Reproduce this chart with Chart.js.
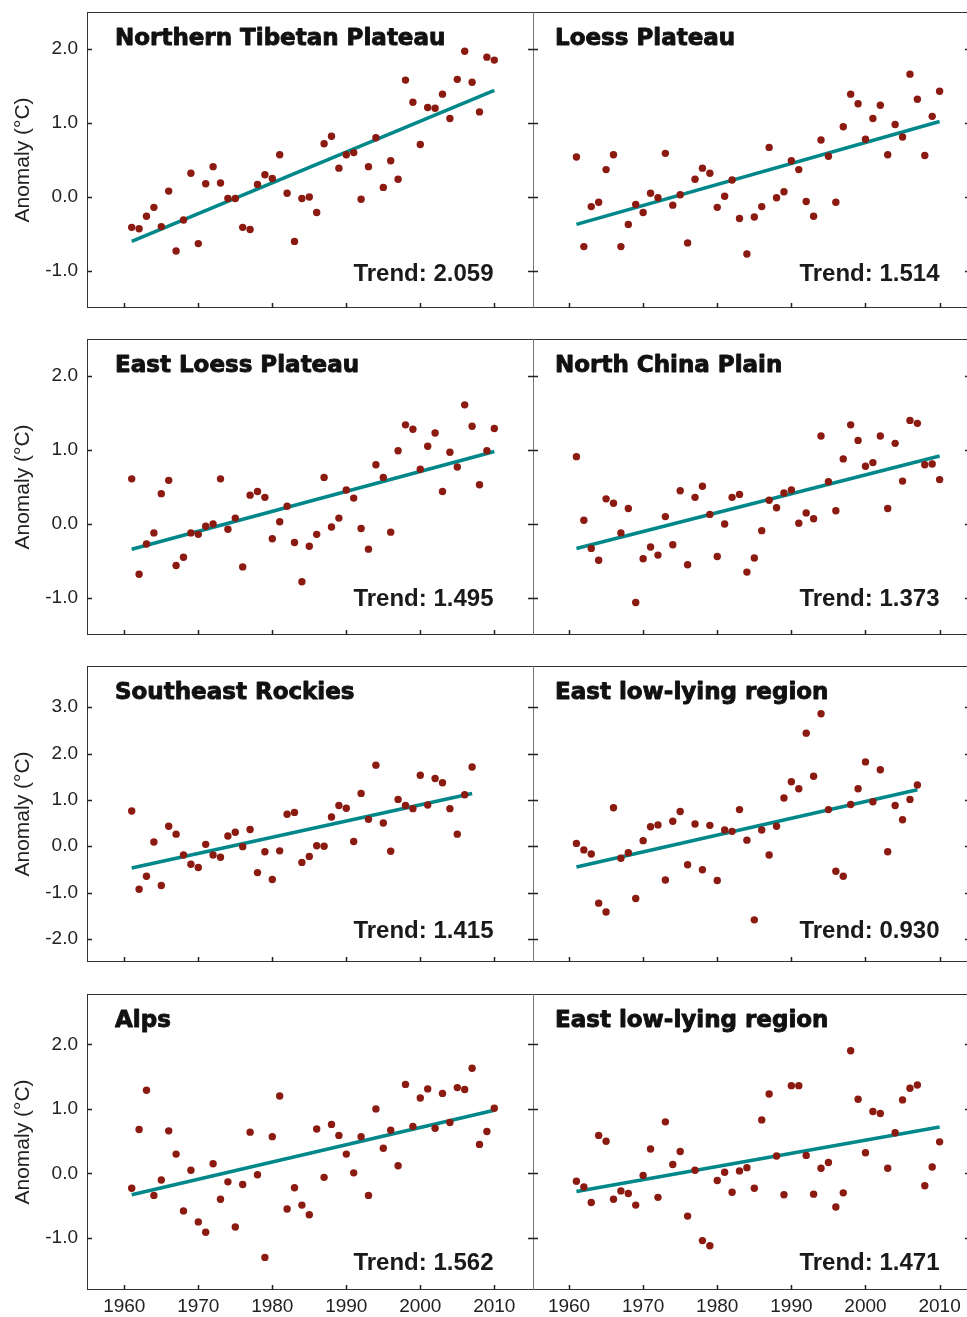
<!DOCTYPE html>
<html>
<head>
<meta charset="utf-8">
<title>Temperature anomaly trends</title>
<script src="https://cdn.jsdelivr.net/npm/chart.js@4.4.1/dist/chart.umd.min.js"></script>
<style>
  html, body { margin: 0; padding: 0; background: #fff; overflow: hidden; width: 967px; height: 1317px; }
  canvas { position: absolute; }
</style>
</head>
<body>
<script>
// ===== data =====
const years = [1961, 1962, 1963, 1964, 1965, 1966, 1967, 1968, 1969, 1970,
  1971, 1972, 1973, 1974, 1975, 1976, 1977, 1978, 1979, 1980,
  1981, 1982, 1983, 1984, 1985, 1986, 1987, 1988, 1989, 1990,
  1991, 1992, 1993, 1994, 1995, 1996, 1997, 1998, 1999, 2000,
  2001, 2002, 2003, 2004, 2005, 2006, 2007, 2008, 2009, 2010];

const titles = ["Northern Tibetan Plateau", "Loess Plateau", "East Loess Plateau", "North China Plain",
  "Southeast Rockies", "East low-lying region", "Alps", "East low-lying region"];
const trendLabels = ["2.059", "1.514", "1.495", "1.373", "1.415", "0.930", "1.562", "1.471"];

const tibetan = [-0.41, -0.43, -0.26, -0.14, -0.40, 0.08, -0.73, -0.31, 0.32, -0.63,
  0.18, 0.41, 0.19, -0.02, -0.02, -0.41, -0.44, 0.17, 0.30, 0.25,
  0.57, 0.05, -0.60, -0.02, 0.00, -0.21, 0.72, 0.82, 0.39, 0.57,
  0.60, -0.03, 0.41, 0.80, 0.13, 0.49, 0.24, 1.58, 1.28, 0.71,
  1.21, 1.20, 1.39, 1.06, 1.59, 1.97, 1.55, 1.15, 1.89, 1.85];
const loess = [0.54, -0.67, -0.13, -0.07, 0.37, 0.57, -0.67, -0.37, -0.10, -0.21,
  0.05, -0.01, 0.59, -0.11, 0.03, -0.62, 0.24, 0.39, 0.32, -0.14,
  0.01, 0.23, -0.29, -0.77, -0.27, -0.13, 0.67, -0.01, 0.07, 0.49,
  0.37, -0.06, -0.26, 0.77, 0.55, -0.07, 0.95, 1.39, 1.26, 0.78,
  1.06, 1.24, 0.57, 0.98, 0.81, 1.66, 1.32, 0.56, 1.09, 1.43];
const eastLoess = [0.61, -0.68, -0.27, -0.12, 0.41, 0.59, -0.56, -0.45, -0.12, -0.14,
  -0.03, 0.00, 0.61, -0.07, 0.08, -0.58, 0.39, 0.44, 0.36, -0.20,
  0.03, 0.24, -0.25, -0.78, -0.30, -0.14, 0.63, -0.04, 0.08, 0.46,
  0.35, -0.06, -0.34, 0.80, 0.63, -0.11, 0.99, 1.34, 1.28, 0.74,
  1.05, 1.23, 0.44, 0.97, 0.77, 1.61, 1.32, 0.53, 0.99, 1.29];
const northChina = [0.91, 0.05, -0.33, -0.49, 0.34, 0.28, -0.12, 0.21, -1.06, -0.47,
  -0.31, -0.42, 0.10, -0.28, 0.45, -0.55, 0.36, 0.51, 0.13, -0.44,
  0.00, 0.36, 0.40, -0.65, -0.46, -0.09, 0.32, 0.22, 0.42, 0.46,
  0.01, 0.15, 0.07, 1.19, 0.57, 0.18, 0.88, 1.34, 1.13, 0.78,
  0.83, 1.19, 0.21, 1.09, 0.58, 1.40, 1.36, 0.80, 0.81, 0.60];
// these two stop in 2007
const seRockies = [0.76, -0.93, -0.65, 0.09, -0.85, 0.43, 0.26, -0.19, -0.39, -0.46,
  0.04, -0.19, -0.24, 0.22, 0.30, -0.01, 0.36, -0.57, -0.12, -0.72,
  -0.10, 0.69, 0.73, -0.35, -0.22, 0.01, 0.00, 0.63, 0.88, 0.82,
  0.10, 1.14, 0.58, 1.75, 0.50, -0.11, 1.01, 0.88, 0.81, 1.53,
  0.89, 1.46, 1.37, 0.81, 0.26, 1.11, 1.71];
const eastLowA = [0.06, -0.08, -0.17, -1.23, -1.42, 0.83, -0.26, -0.14, -1.13, 0.12,
  0.42, 0.46, -0.73, 0.54, 0.75, -0.40, 0.48, -0.51, 0.45, -0.74,
  0.35, 0.32, 0.79, 0.13, -1.59, 0.35, -0.19, 0.43, 1.04, 1.39,
  1.24, 2.44, 1.51, 2.86, 0.79, -0.54, -0.65, 0.90, 1.24, 1.82,
  0.96, 1.65, -0.12, 0.88, 0.57, 1.01, 1.32];
const alps = [-0.23, 0.68, 1.29, -0.34, -0.10, 0.66, 0.30, -0.58, 0.05, -0.75,
  -0.91, 0.15, -0.40, -0.13, -0.83, -0.17, 0.64, -0.02, -1.30, 0.57,
  1.20, -0.55, -0.22, -0.49, -0.64, 0.69, -0.06, 0.76, 0.59, 0.30,
  0.01, 0.57, -0.34, 1.00, 0.39, 0.67, 0.12, 1.38, 0.73, 1.17,
  1.31, 0.70, 1.24, 0.79, 1.33, 1.30, 1.63, 0.45, 0.65, 1.01];
const eastLowB = [-0.12, -0.21, -0.45, 0.59, 0.50, -0.40, -0.27, -0.31, -0.49, -0.03,
  0.38, -0.37, 0.80, 0.14, 0.34, -0.66, 0.05, -1.04, -1.12, -0.11,
  0.02, -0.29, 0.04, 0.09, -0.23, 0.83, 1.23, 0.27, -0.33, 1.36,
  1.36, 0.28, -0.32, 0.08, 0.17, -0.52, -0.30, 1.90, 1.15, 0.32,
  0.96, 0.93, 0.08, 0.63, 1.14, 1.32, 1.37, -0.19, 0.10, 0.49];

// fitted trend line, value at first and last year
const trendStart = [-0.60, -0.37, -0.34, -0.33, -0.47, -0.45, -0.33, -0.28];
const trendEnd = [1.44, 1.02, 0.98, 0.92, 1.14, 1.22, 0.98, 0.72];

const xTicks = [1960, 1970, 1980, 1990, 2000, 2010];
const yTicksRows = [[-1, 0, 1, 2], [-1, 0, 1, 2], [-2, -1, 0, 1, 2, 3], [-1, 0, 1, 2]];

const series = [tibetan, loess, eastLoess, northChina, seRockies, eastLowA, alps, eastLowB];

// ===== layout =====
const rowTop = [12, 339, 666, 994];
const rowH = 296;
const yRanges = [[-1.5, 2.5], [-1.5, 2.5], [-2.5, 3.89], [-1.805, 2.78]];
const trendDy = [269.3, 266.7, 272.3, 276.3];
const cols = [
  { left: 0, width: 533, axisW: 87, xMin: 1954.96, xMax: 2015.23, titleDx: 28 },
  { left: 533, width: 437, axisW: 0, xMin: 1955.14, xMax: 2014.1, titleDx: 22 }
];

const DOT = "#8b1a10";
const TEAL = "#00878a";
const INK = "#1a1a1a";
const LABEL_FONT = "'Liberation Sans', Arial, sans-serif";

// ===== frame, inward ticks, title, trend text =====
const panelFrame = {
  id: "panelFrame",
  afterDatasetsDraw(chart, args, o) {
    const { ctx, chartArea: a, scales } = chart;
    const x = scales.x, y = scales.y;
    ctx.save();
    ctx.lineWidth = 1;
    ctx.strokeStyle = "#333";
    ctx.beginPath();
    ctx.moveTo(a.left, a.top + 0.5); ctx.lineTo(a.right, a.top + 0.5);
    ctx.moveTo(a.left, a.bottom - 0.5); ctx.lineTo(a.right, a.bottom - 0.5);
    if (o.col === 0) { ctx.moveTo(a.left + 0.5, a.top); ctx.lineTo(a.left + 0.5, a.bottom); }
    ctx.stroke();
    if (o.col === 1) {
      ctx.strokeStyle = "#777";
      ctx.beginPath();
      ctx.moveTo(a.left + 0.5, a.top); ctx.lineTo(a.left + 0.5, a.bottom);
      ctx.stroke();
    }
    // ticks pointing into the plot
    ctx.strokeStyle = "#222";
    ctx.lineWidth = 1.5;
    ctx.beginPath();
    o.yTicks.forEach(v => {
      const py = Math.round(y.getPixelForValue(v)) + 0.5;
      ctx.moveTo(a.left, py); ctx.lineTo(a.left + 5, py);
      ctx.moveTo(a.right, py); ctx.lineTo(a.right - 5, py);
    });
    xTicks.forEach(v => {
      const px = Math.round(x.getPixelForValue(v)) + 0.5;
      ctx.moveTo(px, a.bottom); ctx.lineTo(px, a.bottom - 5);
    });
    ctx.stroke();
    // panel title, thickened a little to look like a black weight
    ctx.fillStyle = "#111";
    ctx.strokeStyle = "#111";
    ctx.lineWidth = 0.9;
    ctx.lineJoin = "round";
    ctx.font = "bold 23px 'DejaVu Sans', sans-serif";
    ctx.textAlign = "left";
    ctx.textBaseline = "alphabetic";
    ctx.fillText(o.title, a.left + o.titleDx, a.top + 32.5);
    ctx.strokeText(o.title, a.left + o.titleDx, a.top + 32.5);
    // trend value
    ctx.fillStyle = INK;
    ctx.font = "bold 24px 'Liberation Sans', Arial, sans-serif";
    ctx.textAlign = "right";
    ctx.fillText("Trend: " + o.trend, a.left + 406.5, a.top + o.trendDy);
    ctx.restore();
  }
};

function makePanel(idx) {
  const row = Math.floor(idx / 2), c = idx % 2;
  const col = cols[c];
  const last = row === 3;
  const vals = series[idx];
  const yrs = years.slice(0, vals.length);

  const canvas = document.createElement("canvas");
  const h = rowH + (last ? 30 : 0);
  canvas.width = col.width; canvas.height = h;
  canvas.style.left = col.left + "px";
  canvas.style.top = rowTop[row] + "px";
  canvas.style.width = col.width + "px";
  canvas.style.height = h + "px";
  document.body.appendChild(canvas);

  const points = yrs.map((yr, i) => ({ x: yr, y: vals[i] }));
  const trend = [{ x: yrs[0], y: trendStart[idx] }, { x: yrs[yrs.length - 1], y: trendEnd[idx] }];

  new Chart(canvas, {
    type: "scatter",
    data: {
      datasets: [
        { data: points, pointRadius: 3.7, pointBackgroundColor: DOT, pointBorderWidth: 0, pointHoverRadius: 3.7 },
        { type: "line", data: trend, borderColor: TEAL, borderWidth: 3.6, pointRadius: 0, fill: false, borderCapStyle: "butt" }
      ]
    },
    options: {
      responsive: false,
      animation: false,
      devicePixelRatio: 1,
      layout: { padding: 0, autoPadding: false },
      plugins: {
        legend: { display: false },
        tooltip: { enabled: false },
        panelFrame: { col: c, title: titles[idx], trend: trendLabels[idx], titleDx: col.titleDx,
          trendDy: trendDy[row], yTicks: yTicksRows[row] }
      },
      scales: {
        x: {
          type: "linear",
          min: col.xMin, max: col.xMax,
          display: last,
          grid: { display: false, drawTicks: false },
          border: { display: false },
          ticks: { color: "#222", padding: 5, font: { family: LABEL_FONT, size: 19 }, callback: v => String(v) },
          afterBuildTicks: s => { s.ticks = xTicks.map(v => ({ value: v })); },
          afterFit: s => { s.height = last ? 30 : 0; s.paddingLeft = 0; s.paddingRight = 0; }
        },
        y: {
          type: "linear",
          min: yRanges[row][0], max: yRanges[row][1],
          display: c === 0,
          grid: { display: false, drawTicks: false },
          border: { display: false },
          ticks: { color: "#222", padding: 9, font: { family: LABEL_FONT, size: 19 }, callback: v => v.toFixed(1) },
          title: { display: true, text: "Anomaly (°C)", color: "#222", font: { family: LABEL_FONT, size: 21 }, padding: { top: 11, bottom: 0 } },
          afterBuildTicks: s => { s.ticks = yTicksRows[row].map(v => ({ value: v })); },
          afterFit: s => { s.width = col.axisW; s.paddingTop = 0; s.paddingBottom = 0; }
        }
      }
    },
    plugins: [panelFrame]
  });
}

for (let i = 0; i < 8; i++) makePanel(i);
</script>
</body>
</html>
